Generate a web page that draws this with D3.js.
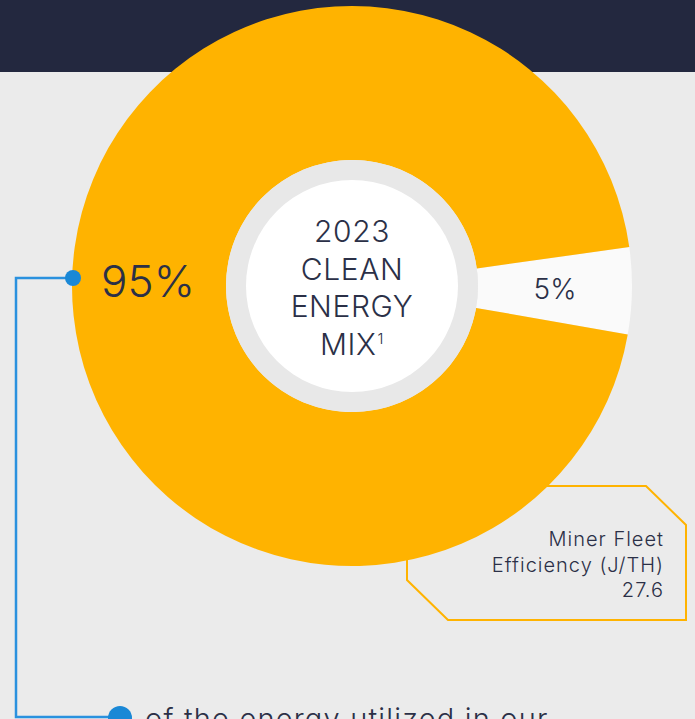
<!DOCTYPE html>
<html>
<head>
<meta charset="utf-8">
<script src="https://cdn.jsdelivr.net/npm/d3@7"></script>
<style>
  html, body { margin: 0; padding: 0; background: #ebebeb; overflow: hidden; }
  svg { display: block; font-family: Inter, "Noto Sans", sans-serif; }
</style>
</head>
<body>
<script>
'use strict';

// energy mix shares (percent)
var categories = ['Other', 'Clean energy'];
var values = [5, 95];
var sliceLabels = ['5%', '95%'];
var centerLines = ['2023', 'CLEAN', 'ENERGY', 'MIX'];
var boxLines = ['Miner Fleet', 'Efficiency (J/TH)', '27.6'];
var footText = 'of the energy utilized in our';

var w = 695,
    h = 719,
    cx = 352,
    cy = 286,
    outerR = 280,
    ringR = 126,
    innerR = 106;

var navy = '#23283f',
    yellow = '#ffb300',
    ink = '#2b3047',
    blue = '#1a88d6';

var svg = d3.select('body')
    .append('svg')
    .attr('width', w)
    .attr('height', h);

/* dark band at the top */
svg.append('rect')
    .attr('x', 0)
    .attr('y', 0)
    .attr('width', w)
    .attr('height', 72)
    .attr('fill', navy);

/* efficiency box, sits behind the pie */
var box = [[407, 486], [646, 486], [686, 525], [686, 620], [448, 620], [407, 580]];
svg.append('path')
    .attr('d', d3.line()(box) + 'Z')
    .attr('fill', 'none')
    .attr('stroke', yellow)
    .attr('stroke-width', 2);

svg.append('text')
    .attr('text-anchor', 'end')
    .attr('font-size', 20)
    .attr('font-weight', 300)
    .attr('letter-spacing', 1)
    .attr('fill', ink)
    .selectAll('tspan')
    .data(boxLines)
    .enter()
    .append('tspan')
    .attr('x', 664)
    .attr('y', function(d, i) { return 546 + i * 25.5; })
    .text(function(d) { return d; });

/* connector lines */
svg.append('path')
    .attr('d', d3.line()([[73, 278], [16, 278], [16, 717], [120, 717]]))
    .attr('fill', 'none')
    .attr('stroke', '#2a91de')
    .attr('stroke-width', 2.5);

/* the pie */
var startA = 82 * Math.PI / 180;
var pie = d3.pie()
    .sort(null)
    .startAngle(startA)
    .endAngle(startA + 2 * Math.PI);

var arc = d3.arc()
    .innerRadius(ringR)
    .outerRadius(outerR);

var colour = d3.scaleOrdinal()
    .domain(categories)
    .range(['#fafafa', yellow]);

var g = svg.append('g')
    .attr('transform', 'translate(' + cx + ',' + cy + ')');

var arcs = pie(values);

g.selectAll('path.slice')
    .data(arcs)
    .enter()
    .append('path')
    .attr('class', 'slice')
    .attr('d', arc)
    .attr('fill', function(d, i) { return colour(categories[i]); });

g.append('circle')
    .attr('r', ringR)
    .attr('fill', '#e8e8e8');

g.append('circle')
    .attr('r', innerR)
    .attr('fill', '#ffffff');

/* slice labels */
g.append('text')
    .attr('x', 555 - cx)
    .attr('y', 299 - cy)
    .attr('text-anchor', 'middle')
    .attr('font-size', 28)
    .attr('font-weight', 300)
    .attr('fill', ink)
    .text(sliceLabels[0]);

g.append('text')
    .attr('x', 148 - cx)
    .attr('y', 297 - cy)
    .attr('text-anchor', 'middle')
    .attr('font-size', 44)
    .attr('font-weight', 300)
    .attr('fill', ink)
    .text(sliceLabels[1]);

/* centre title */
var title = g.append('text')
    .attr('text-anchor', 'middle')
    .attr('font-size', 30)
    .attr('font-weight', 300)
    .attr('letter-spacing', 0.6)
    .attr('fill', ink);

title.selectAll('tspan')
    .data(centerLines)
    .enter()
    .append('tspan')
    .attr('x', 0)
    .attr('y', function(d, i) { return 242 - cy + i * 37.5; })
    .text(function(d) { return d; })
    .filter(function(d, i) { return i === centerLines.length - 1; })
    .append('tspan')
    .attr('font-size', 15)
    .attr('dy', -11)
    .attr('dx', 1)
    .text('1');

/* dots */
svg.append('circle')
    .attr('cx', 73)
    .attr('cy', 278)
    .attr('r', 8)
    .attr('fill', blue);

svg.append('circle')
    .attr('cx', 120)
    .attr('cy', 718)
    .attr('r', 12)
    .attr('fill', blue);

svg.append('text')
    .attr('x', 145)
    .attr('y', 729)
    .attr('font-size', 29)
    .attr('font-weight', 300)
    .attr('letter-spacing', 1.2)
    .attr('fill', ink)
    .text(footText);
</script>
</body>
</html>
